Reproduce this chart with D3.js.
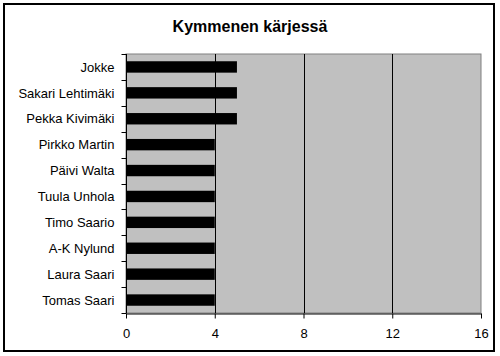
<!DOCTYPE html>
<html lang="fi">
<head>
  <meta charset="UTF-8">
  <title>Kymmenen kärjessä</title>
  <script src="https://d3js.org/d3.v7.min.js"></script>
  <style>
    body { margin: 0; background: #fff; }
    text { font-family: "Liberation Sans", Arial, sans-serif; }
  </style>
</head>
<body>
  <div class="canvas"></div>
  <script>
    const title = 'Kymmenen kärjessä';
    const names = ['Jokke', 'Sakari Lehtimäki', 'Pekka Kivimäki', 'Pirkko Martin', 'Päivi Walta',
                   'Tuula Unhola', 'Timo Saario', 'A-K Nylund', 'Laura Saari', 'Tomas Saari'];
    const values = [5, 5, 5, 4, 4, 4, 4, 4, 4, 4];
    const xTicks = [0, 4, 8, 12, 16];

    const width = 500;
    const height = 356;
    const [ml, mr, mt, mb] = [126, 481, 54, 313]; // plot edges

    const svg = d3.select('.canvas')
                    .append('svg')
                    .attr('width', width)
                    .attr('height', height);

    // outer frame
    svg.append('rect')
      .attr('x', 4).attr('y', 4)
      .attr('width', 490).attr('height', 347)
      .attr('fill', '#fff')
      .attr('stroke', '#000')
      .attr('stroke-width', 2);

    svg.append('text')
      .attr('x', 250).attr('y', 32)
      .attr('text-anchor', 'middle')
      .style('font-size', '16px')
      .style('font-weight', 'bold')
      .text(title);

    const x = d3.scaleLinear().domain([0, 16]).range([ml, mr]);
    const y = d3.scaleBand()
                  .domain(names)
                  .range([mt, mb])
                  .paddingInner(0.56)
                  .paddingOuter(0.28);

    // plot background
    svg.append('rect')
      .attr('x', ml).attr('y', mt)
      .attr('width', mr - ml).attr('height', mb - mt)
      .attr('fill', '#c0c0c0')
      .attr('stroke', '#808080')
      .attr('stroke-width', 1);

    // vertical gridlines
    svg.append('g')
      .selectAll('line')
      .data(xTicks.filter(d => d > 0 && d < 16))
      .enter()
      .append('line')
      .attr('x1', d => Math.round(x(d)) + 0.5)
      .attr('x2', d => Math.round(x(d)) + 0.5)
      .attr('y1', mt)
      .attr('y2', mb)
      .attr('stroke', '#000');

    // bars
    svg.append('g')
      .selectAll('rect')
      .data(values)
      .enter()
      .append('rect')
      .attr('x', x(0))
      .attr('y', (d, i) => y(names[i]))
      .attr('width', d => x(d) - x(0))
      .attr('height', y.bandwidth())
      .attr('fill', '#000');

    // left axis: ticks at category boundaries
    const step = y.step();
    const yAxisG = svg.append('g').attr('transform', `translate(${ml + 0.5}, 0)`);
    yAxisG.append('line')
      .attr('x1', 0).attr('x2', 0)
      .attr('y1', mt).attr('y2', mb)
      .attr('stroke', '#000');
    yAxisG.selectAll('line.tick')
      .data(d3.range(names.length + 1))
      .enter()
      .append('line')
      .attr('class', 'tick')
      .attr('x1', -5).attr('x2', 0)
      .attr('y1', i => Math.round(mt + i * step) + 0.5)
      .attr('y2', i => Math.round(mt + i * step) + 0.5)
      .attr('stroke', '#000');
    yAxisG.selectAll('text')
      .data(names)
      .enter()
      .append('text')
      .attr('x', -12)
      .attr('y', d => y(d) + y.bandwidth() / 2)
      .attr('dy', '0.36em')
      .attr('text-anchor', 'end')
      .style('font-size', '13px')
      .text(d => d);

    // bottom axis
    const xAxis = d3.axisBottom(x)
                      .tickValues(xTicks)
                      .tickSize(5)
                      .tickSizeOuter(0)
                      .tickPadding(10);
    const xAxisG = svg.append('g')
                      .attr('transform', `translate(0, ${mb + 0.5})`)
                      .call(xAxis);
    xAxisG.select('.domain').attr('stroke', '#000');
    xAxisG.selectAll('line').attr('stroke', '#000');
    xAxisG.selectAll('text')
      .style('font-size', '13px')
      .style('font-family', '"Liberation Sans", Arial, sans-serif')
      .attr('fill', '#000');
  </script>
</body>
</html>
